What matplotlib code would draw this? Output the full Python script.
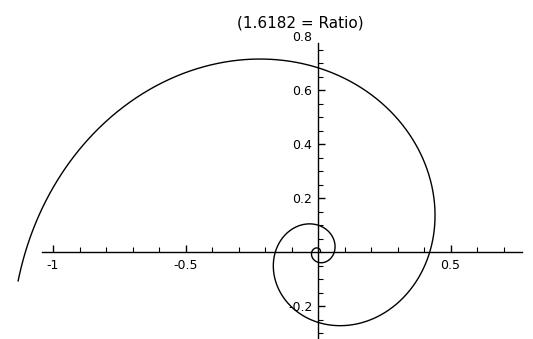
import numpy as np
import matplotlib
matplotlib.use('Agg')
import matplotlib.pyplot as plt
from matplotlib.ticker import FixedLocator

# spiral parameters
ratio = 1.6182          # growth per quarter turn (from the label)
r_start = 0.0615        # radius where the curve first crosses the positive x axis
quarter_turns = [-4, 6.06]   # angle range in quarter turns

x_major = [-1, -0.5, 0.5]
x_labels = ['-1', '-0.5', '0.5']
y_major = [-0.2, 0.2, 0.4, 0.6, 0.8]
y_labels = ['-0.2', '0.2', '0.4', '0.6', '0.8']
x_minor = [-1.0, -0.9, -0.8, -0.7, -0.6, -0.4, -0.3, -0.2, -0.1, 0.1, 0.2, 0.3, 0.4, 0.6, 0.7]
y_minor = [-0.3, -0.25, -0.15, -0.1, -0.05, 0.05, 0.1, 0.15, 0.25, 0.3, 0.35,
           0.45, 0.5, 0.55, 0.65, 0.7, 0.75]
title = '(1.6182 = Ratio)'

theta = np.linspace(quarter_turns[0] * np.pi / 2, quarter_turns[1] * np.pi / 2, 3000)
r = r_start * ratio ** (2 * theta / np.pi)
xs = r * np.cos(theta)
ys = r * np.sin(theta)

fig = plt.figure(figsize=(5.33, 3.39), dpi=100)
ax = fig.add_axes([0, 0, 1, 1])
ax.plot(xs, ys, color='black', lw=1.0)

# pixel mapping: x = 318 + 265*x, y = 252 - 270*y
ax.set_xlim(-318 / 265, (533 - 318) / 265)
ax.set_ylim(-(339 - 252) / 270, 252 / 270)

for s in ['top', 'right']:
    ax.spines[s].set_visible(False)
ax.spines['left'].set_position(('data', 0))
ax.spines['bottom'].set_position(('data', 0))
ax.spines['left'].set_bounds(-0.33, 0.775)
ax.spines['bottom'].set_bounds(-1.04, 0.77)
ax.spines['left'].set_linewidth(1.0)
ax.spines['bottom'].set_linewidth(1.0)

ax.xaxis.set_major_locator(FixedLocator(x_major))
ax.set_xticklabels(x_labels)
ax.xaxis.set_minor_locator(FixedLocator(x_minor))
ax.yaxis.set_major_locator(FixedLocator(y_major))
ax.set_yticklabels(y_labels)
ax.yaxis.set_minor_locator(FixedLocator(y_minor))

ax.tick_params(which='major', direction='in', length=5, width=1.0, labelsize=9)
ax.tick_params(axis='x', which='major', pad=5)
ax.tick_params(axis='y', which='major', pad=4)
ax.tick_params(which='minor', direction='in', length=3.5, width=0.8)
# the axis stops short of 0.8, only the label is shown there
ax.yaxis.get_major_ticks()[-1].tick1line.set_visible(False)

fig.text(300 / 533, 1 - 23 / 339, title, ha='center', va='center', fontsize=11)

fig.savefig('out.png', dpi=100)
